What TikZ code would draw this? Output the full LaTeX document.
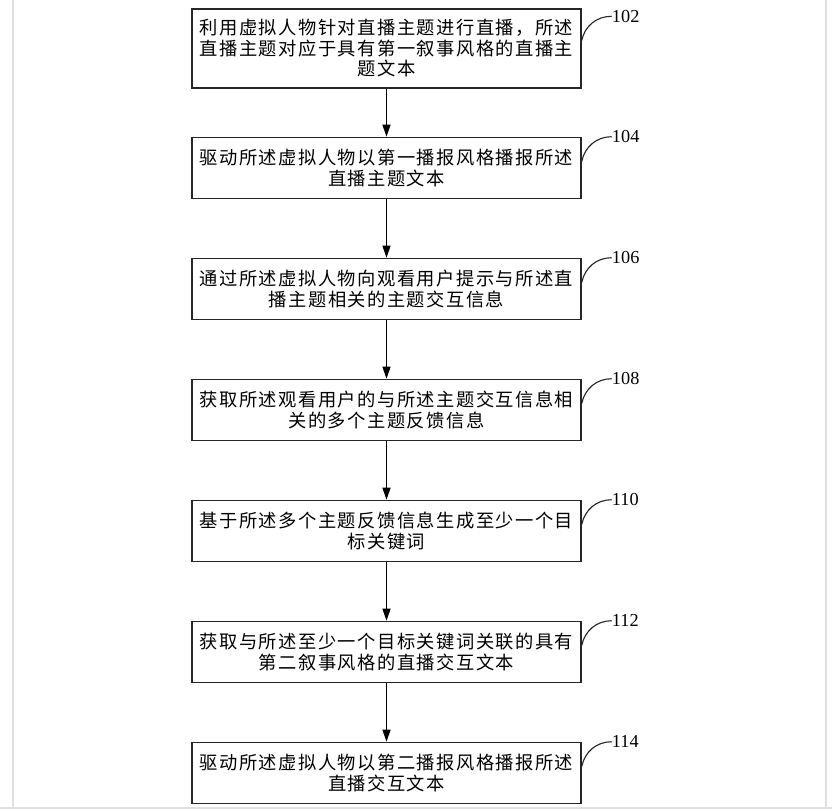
\documentclass[tikz,border=0pt]{standalone}
\usepackage{fontspec}
\setmainfont{Liberation Serif}
\newfontfamily\cjk[LetterSpace=8]{Noto Sans CJK SC}
\usetikzlibrary{positioning,arrows.meta}

\begin{document}
\begin{tikzpicture}[node distance=1.465cm, >={Triangle[length=3mm,width=2mm]}]
    \tikzstyle{stepbox}=[rectangle, draw=black!85, line width=1pt, align=center, minimum width=9.725cm, minimum height=1.525cm, inner ysep=5pt, font=\cjk\fontsize{13}{14.6}\selectfont]
    \tikzstyle{num}=[anchor=west, inner sep=0pt, font=\fontsize{13}{13}\selectfont]
    \tikzstyle{hook}=[line width=0.8pt, black!85]

    \useasboundingbox (0,0) rectangle (20.8,20.25);
    % faint frame of the page
    \draw[black!12, line width=0.8pt] (0.325,20.25) -- (0.325,0.05);
    \draw[black!12, line width=0.8pt] (20.65,20.25) -- (20.65,0.05);
    \draw[black!12, line width=0.8pt] (0,0.05) -- (20.8,0.05);

    \node[stepbox, minimum height=1.975cm] (s102) at (9.6625,19.0375) {利用虚拟人物针对直播主题进行直播，所述\\直播主题对应于具有第一叙事风格的直播主\\题文本};
    \node[stepbox, below=1.2cm of s102] (s104) {驱动所述虚拟人物以第一播报风格播报所述\\直播主题文本};
    \node[stepbox, below=of s104] (s106) {通过所述虚拟人物向观看用户提示与所述直\\播主题相关的主题交互信息};
    \node[stepbox, below=of s106] (s108) {获取所述观看用户的与所述主题交互信息相\\关的多个主题反馈信息};
    \node[stepbox, below=of s108] (s110) {基于所述多个主题反馈信息生成至少一个目\\标关键词};
    \node[stepbox, below=of s110] (s112) {获取与所述至少一个目标关键词关联的具有\\第二叙事风格的直播交互文本};
    \node[stepbox, below=of s112] (s114) {驱动所述虚拟人物以第二播报风格播报所述\\直播交互文本};

    % step numbers
    \node[num, right=0.75cm of s102.north east, yshift=-0.2cm] (n102) {102};
    \node[num, right=0.75cm of s104.north east] (n104) {104};
    \node[num, right=0.75cm of s106.north east] (n106) {106};
    \node[num, right=0.75cm of s108.north east] (n108) {108};
    \node[num, right=0.75cm of s110.north east] (n110) {110};
    \node[num, right=0.75cm of s112.north east] (n112) {112};
    \node[num, right=0.75cm of s114.north east] (n114) {114};

    \draw[hook] ([yshift=0.2cm]s102.east) to[out=78, in=180] (n102.west);
    \draw[hook] ([yshift=0.16cm]s104.east) to[out=78, in=180] (n104.west);
    \draw[hook] ([yshift=0.16cm]s106.east) to[out=78, in=180] (n106.west);
    \draw[hook] ([yshift=0.16cm]s108.east) to[out=78, in=180] (n108.west);
    \draw[hook] ([yshift=0.16cm]s110.east) to[out=78, in=180] (n110.west);
    \draw[hook] ([yshift=0.16cm]s112.east) to[out=78, in=180] (n112.west);
    \draw[hook] ([yshift=0.16cm]s114.east) to[out=78, in=180] (n114.west);

    \draw[->, line width=0.9pt] (s102) -- (s104);
    \draw[->, line width=0.9pt] (s104) -- (s106);
    \draw[->, line width=0.9pt] (s106) -- (s108);
    \draw[->, line width=0.9pt] (s108) -- (s110);
    \draw[->, line width=0.9pt] (s110) -- (s112);
    \draw[->, line width=0.9pt] (s112) -- (s114);
\end{tikzpicture}
\end{document}
